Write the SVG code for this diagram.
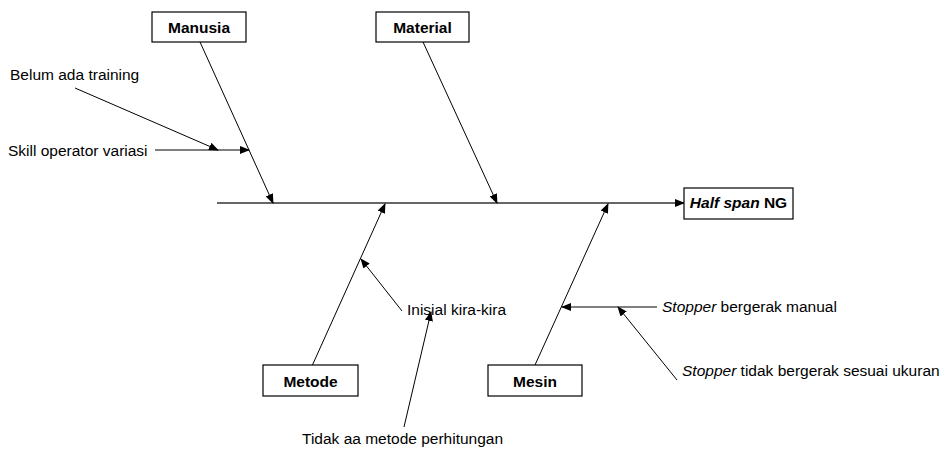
<svg xmlns="http://www.w3.org/2000/svg" width="948" height="449" viewBox="0 0 948 449">
  <style>
    .box { fill: #ffffff; stroke: #000000; stroke-width: 1.2; }
    .head { font-family: "Liberation Sans", Arial, sans-serif; font-size: 15.5px; font-weight: bold; fill: #000; text-anchor: middle; }
    .cause { font-family: "Liberation Sans", Arial, sans-serif; font-size: 15.5px; fill: #000; }
    .ln { stroke: #000; stroke-width: 1; fill: none; marker-end: url(#ah); }
    .spine { stroke: #333; stroke-width: 1.4; fill: none; marker-end: url(#ah); }
  </style>
  <defs>
    <marker id="ah" markerUnits="userSpaceOnUse" markerWidth="10" markerHeight="8" refX="9" refY="4" orient="auto">
      <path d="M0,0 L10,4 L0,8 Z" fill="#000"/>
    </marker>
  </defs>

  <rect width="948" height="449" fill="#ffffff"/>

  <!-- connectors -->
  <g id="connectors">
    <line class="spine" x1="217" y1="203" x2="684" y2="203"/>
    <line class="ln" x1="200" y1="42" x2="273" y2="203"/>
    <line class="ln" x1="423" y1="42" x2="497" y2="203"/>
    <line class="ln" x1="312" y1="366" x2="385" y2="204"/>
    <line class="ln" x1="535" y1="365" x2="608" y2="204"/>
    <line class="ln" x1="155" y1="150" x2="249" y2="150"/>
    <line class="ln" x1="75" y1="88" x2="218" y2="150"/>
    <line class="ln" x1="402" y1="311" x2="361" y2="259"/>
    <line class="ln" x1="404" y1="427" x2="431" y2="312"/>
    <line class="ln" x1="657" y1="307" x2="562" y2="307"/>
    <line class="ln" x1="677" y1="380" x2="618" y2="307"/>
  </g>

  <!-- category boxes -->
  <g id="manusia">
    <rect class="box" x="152" y="12" width="94" height="30"/>
    <text class="head" x="199" y="33">Manusia</text>
  </g>
  <g id="material">
    <rect class="box" x="376" y="12" width="93" height="30"/>
    <text class="head" x="422.5" y="33">Material</text>
  </g>
  <g id="metode">
    <rect class="box" x="263" y="365" width="95" height="31"/>
    <text class="head" x="310.5" y="387">Metode</text>
  </g>
  <g id="mesin">
    <rect class="box" x="488" y="365" width="94" height="31"/>
    <text class="head" x="535" y="387">Mesin</text>
  </g>
  <g id="effect">
    <rect class="box" x="684" y="188" width="109" height="31"/>
    <text class="head" x="738.5" y="208"><tspan font-style="italic">Half span</tspan> NG</text>
  </g>

  <!-- causes -->
  <g id="cause-training">
    <text class="cause" x="10" y="80">Belum ada training</text>
  </g>
  <g id="cause-skill">
    <text class="cause" x="8" y="156">Skill operator variasi</text>
  </g>
  <g id="cause-inisial">
    <text class="cause" x="407" y="315">Inisial kira-kira</text>
  </g>
  <g id="cause-perhitungan">
    <text class="cause" x="302" y="444">Tidak aa metode perhitungan</text>
  </g>
  <g id="cause-manual">
    <text class="cause" x="662" y="312"><tspan font-style="italic">Stopper</tspan> bergerak manual</text>
  </g>
  <g id="cause-ukuran">
    <text class="cause" x="682" y="376"><tspan font-style="italic">Stopper</tspan> tidak bergerak sesuai ukuran</text>
  </g>
</svg>
